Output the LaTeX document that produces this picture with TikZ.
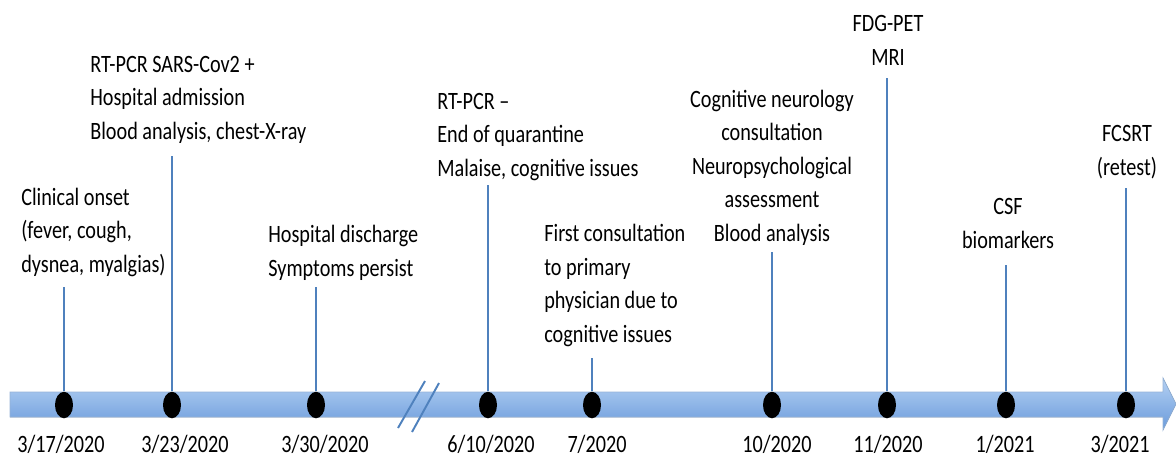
\documentclass[tikz,border=0pt]{standalone}
\usepackage{fontspec}
\setmainfont[FakeStretch=0.81]{Carlito}
\definecolor{stemblue}{RGB}{79,129,189}
\definecolor{bandtop}{RGB}{180,208,243}
\definecolor{bandbot}{RGB}{106,155,219}
\usetikzlibrary{positioning}
\usetikzlibrary{shapes.geometric}

\begin{document}
\begin{tikzpicture}[x=0.02cm, y=-0.02cm,
  evtext/.style={inner sep=0pt, font=\fontsize{14.2}{19}\selectfont},
  dot/.style={ellipse, fill=black, inner sep=0pt, minimum width=0.36cm, minimum height=0.53cm},
  stem/.style={draw=stemblue, line width=1.1pt}]

  \useasboundingbox (0,0) rectangle (1176,458);

  % time band
  \fill [top color=bandtop, bottom color=bandbot, draw=stemblue!60, line width=0.4pt]
    (10,392) -- (1163,392) -- (1163,378) -- (1176,404) -- (1163,430) -- (1163,417) -- (10,417) -- cycle;
  % break marks
  \draw [stemblue, line width=1.1pt] (398,428) -- (425,381);
  \draw [stemblue, line width=1.1pt] (412,432) -- (439,383);

  % dots
  \node [dot] (d1) at (64,405) {};
  \node [dot] (d2) at (172,405) {};
  \node [dot] (d3) at (316,405) {};
  \node [dot] (d4) at (488,405) {};
  \node [dot] (d5) at (592,405) {};
  \node [dot] (d6) at (772,405) {};
  \node [dot] (d7) at (887,405) {};
  \node [dot] (d8) at (1006,405) {};
  \node [dot] (d9) at (1126,405) {};

  % stem tops
  \coordinate (t1) at (64,287);
  \coordinate (t2) at (172,156);
  \coordinate (t3) at (316,287);
  \coordinate (t4) at (488,185);
  \coordinate (t5) at (592,358);
  \coordinate (t6) at (772,252);
  \coordinate (t7) at (887,78);
  \coordinate (t8) at (1006,265);
  \coordinate (t9) at (1126,188);

  \foreach \i in {1,...,9}
    \draw [stem] (d\i) -- (t\i);

  % events (base = last line)
  \node [evtext, anchor=base west, align=left] (onset) at (21,272)
    {Clinical onset\\(fever, cough,\\dysnea, myalgias)};
  \node [evtext, anchor=base west, align=left] (admit) at (90,139)
    {RT-PCR SARS-Cov2 +\\Hospital admission\\Blood analysis, chest-X-ray};
  \node [evtext, anchor=base west, align=left] (discharge) at (268,276)
    {Hospital discharge\\Symptoms persist};
  \node [evtext, anchor=base west, align=left] (quar) at (437,176)
    {RT-PCR –\\End of quarantine\\Malaise, cognitive issues};
  \node [evtext, anchor=base west, align=left] (firstc) at (544,342)
    {First consultation\\to primary\\physician due to\\cognitive issues};
  \node [evtext, anchor=base, align=center] (neuro) at (772,241)
    {Cognitive neurology\\consultation\\Neuropsychological\\assessment\\Blood analysis};
  \node [evtext, anchor=base, align=center] (pet) at (888,65) {FDG-PET\\MRI};
  \node [evtext, anchor=base, align=center] (csf) at (1008,248) {CSF\\biomarkers};
  \node [evtext, anchor=base, align=center] (fcsrt) at (1127,175) {FCSRT\\(retest)};

  % dates
  \node [evtext, anchor=base] (date1) at (61,452) {3/17/2020};
  \node [evtext, anchor=base] (date2) at (185,452) {3/23/2020};
  \node [evtext, anchor=base] (date3) at (325,452) {3/30/2020};
  \node [evtext, anchor=base] (date4) at (491,452) {6/10/2020};
  \node [evtext, anchor=base] (date5) at (597,452) {7/2020};
  \node [evtext, anchor=base] (date6) at (777,452) {10/2020};
  \node [evtext, anchor=base] (date7) at (888,452) {11/2020};
  \node [evtext, anchor=base] (date8) at (1005,452) {1/2021};
  \node [evtext, anchor=base] (date9) at (1120,452) {3/2021};

\end{tikzpicture}
\end{document}
